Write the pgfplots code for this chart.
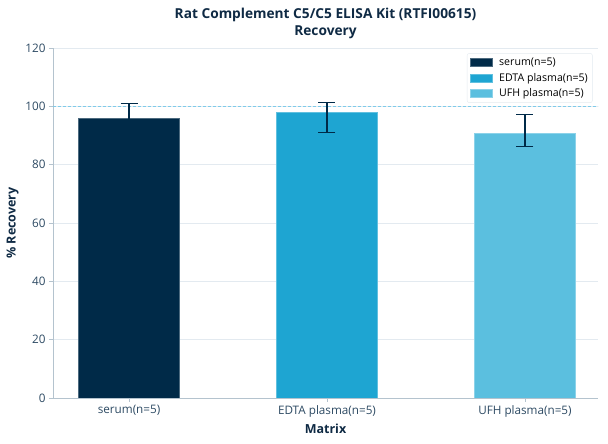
\documentclass[border=0pt]{standalone}
\usepackage{fontspec}
\setmainfont{Open Sans}
\usepackage{pgfplots}
\pgfplotsset{compat=1.18}
\definecolor{serumc}{HTML}{002A48}
\definecolor{edtac}{HTML}{1EA5D2}
\definecolor{ufhc}{HTML}{5BBFDF}
\definecolor{titlec}{HTML}{0F2A44}
\definecolor{tickc}{HTML}{2D4A63}
\definecolor{spinec}{HTML}{B4C3CE}
\definecolor{gridc}{HTML}{E3EAF0}
\definecolor{refc}{HTML}{7FCBEA}
\pgfplotsset{
    barleg/.style={legend image code/.code={
        \fill[##1, sharp corners] (0pt,-4pt) rectangle (22pt,4pt);
        \path (27pt,0pt);}},
}
\begin{document}
\begin{tikzpicture}
\begin{axis}[
    name=ax,
    scale only axis,
    width=545pt, height=350pt,
    xmin=-0.384, xmax=2.369,
    ymin=0, ymax=120,
    ytick={0,20,...,120},
    xtick={0,1,2},
    xticklabels={serum(n=5), EDTA plasma(n=5), UFH plasma(n=5)},
    axis x line*=bottom, axis y line*=left,
    axis line style={spinec, line width=0.8pt},
    ymajorgrids=true,
    grid style={gridc, line width=0.6pt},
    tick style={spinec, line width=0.8pt},
    tick align=outside,
    major tick length=4pt,
    tick label style={font=\fontsize{11.7}{14}\selectfont, text=tickc},
    /pgf/number format/assume math mode=true,
    xlabel={Matrix},
    ylabel={\% Recovery},
    label style={font=\fontsize{12.5}{15}\selectfont\bfseries, text=titlec},
    title={Rat Complement C5/C5 ELISA Kit (RTFI00615)\\Recovery},
    title style={font=\fontsize{13.7}{17}\selectfont\bfseries, align=center, text=titlec},
    legend style={at={(0.99,0.985)}, anchor=north east, draw=gridc, rounded corners=2pt,
        font=\fontsize{10.6}{13}\selectfont, text=black, row sep=2pt, inner sep=2.5pt},
    legend cell align=left,
    ybar, bar width=0.51, bar shift=0pt,
    error bars/error bar style={serumc, line width=1.3pt},
    error bars/error mark options={serumc, rotate=90, mark size=8.5pt, line width=1.3pt},
]
\addplot[sharp plot, refc, dashed, dash pattern=on 3pt off 2pt, line width=0.8pt, forget plot]
    coordinates {(-0.384,100) (2.369,100)};

\addplot[fill=serumc, draw=serumc!70!white, line width=0.5pt, barleg,
    error bars/.cd, y dir=both, y explicit]
    coordinates {(0,96) += (0,5) -= (0,5)};
\addlegendentry{serum(n=5)}

\addplot[fill=edtac, draw=edtac!70!white, line width=0.5pt, barleg,
    error bars/.cd, y dir=both, y explicit]
    coordinates {(1,97.9) += (0,3.3) -= (0,6.9)};
\addlegendentry{EDTA plasma(n=5)}

\addplot[fill=ufhc, draw=ufhc!70!white, line width=0.5pt, barleg,
    error bars/.cd, y dir=both, y explicit]
    coordinates {(2,90.7) += (0,6.4) -= (0,4.5)};
\addlegendentry{UFH plasma(n=5)}
\end{axis}
\pgfresetboundingbox
\useasboundingbox ([shift={(-53pt,-46pt)}]ax.south west) rectangle ([shift={(10pt,48pt)}]ax.north east);
\end{tikzpicture}
\end{document}
